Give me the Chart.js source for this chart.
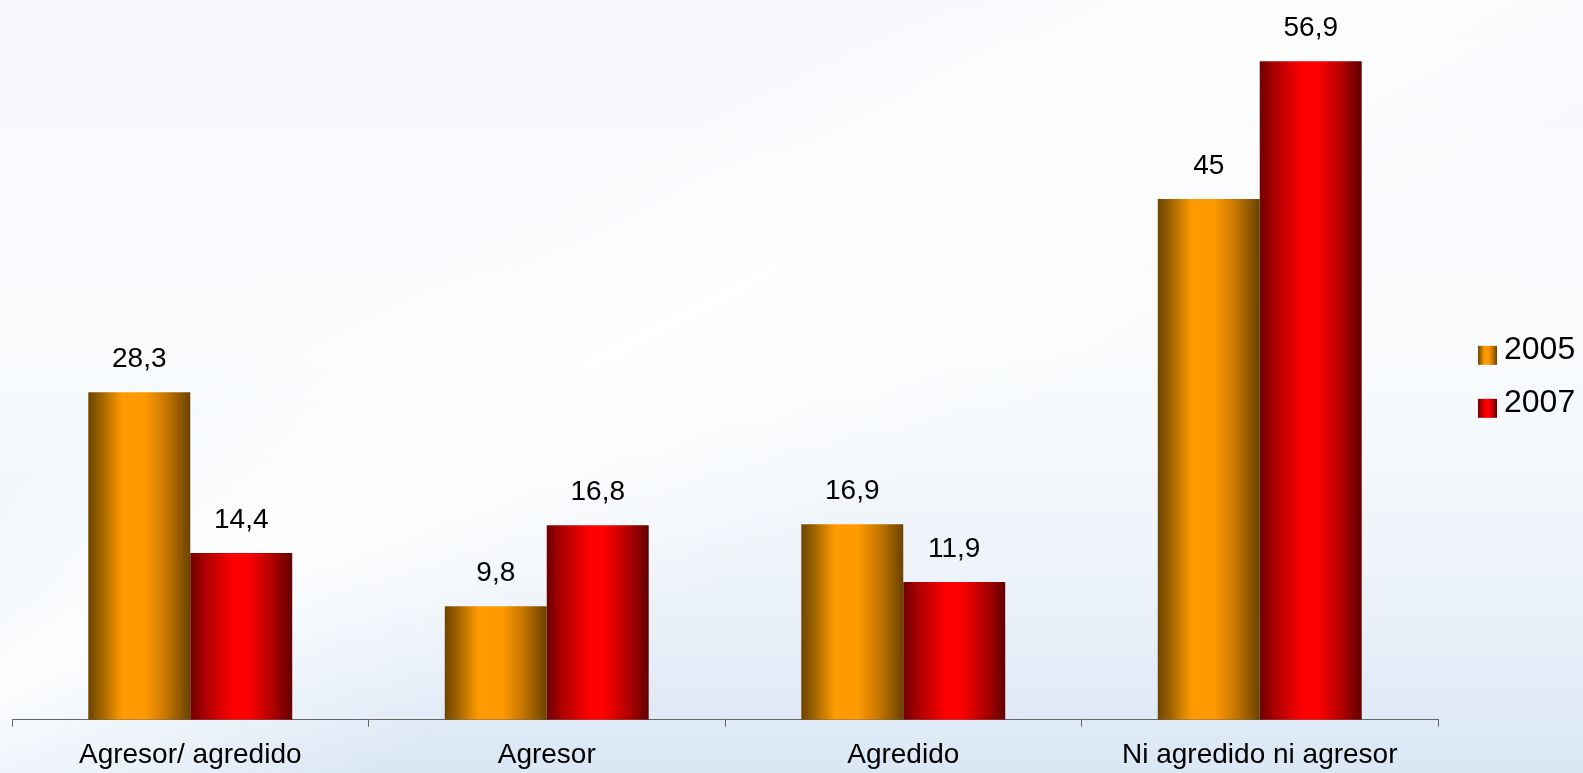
<!DOCTYPE html>
<html>
<head>
<meta charset="utf-8">
<script src="https://cdn.jsdelivr.net/npm/chart.js@4"></script>
<style>
  html, body { margin: 0; padding: 0; }
  body {
    width: 1583px; height: 773px; overflow: hidden;
    background:
      linear-gradient(152deg, rgba(255,255,255,0) 30%, rgba(255,255,255,0.9) 42%, rgba(255,255,255,0) 60%),
      linear-gradient(to bottom, #f6f8fc 0%, #f9fbfd 45%, #eff4fa 72%, #e1ebf7 90%, #dbe7f5 100%);
  }
  #wrap { position: relative; width: 1583px; height: 773px; }
</style>
</head>
<body>
<div id="wrap"><canvas id="chart"></canvas></div>
<script>
// categories and series
const categories = ['Agresor/ agredido', 'Agresor', 'Agredido', 'Ni agredido ni agresor'];
const years = ['2005', '2007'];
const values2005 = [28.3, 9.8, 16.9, 45];
const values2007 = [14.4, 16.8, 11.9, 56.9];

const FONT = '"Liberation Sans", Arial, sans-serif';
const CAT_PCT = 0.572;

// horizontal "cylinder" shading for each series
const shades = [
  [[0, '#6e4400'], [0.12, '#9c6200'], [0.33, '#ff9a00'], [0.56, '#ff9900'], [0.78, '#c07300'], [1, '#6a4200']],
  [[0, '#6e0000'], [0.15, '#ad0000'], [0.42, '#ff0000'], [0.56, '#ff0000'], [0.8, '#b30000'], [1, '#600000']]
];
const flat = ['#ff9900', '#ff0000'];

function shade(ctx, ds, x0, x1) {
  const g = ctx.createLinearGradient(x0, 0, x1, 0);
  shades[ds].forEach(s => g.addColorStop(s[0], s[1]));
  return g;
}

function barFill(context) {
  const chart = context.chart;
  const x = chart.scales.x;
  if (!chart.chartArea || !x) return flat[context.datasetIndex];
  const cat = x.width / categories.length;
  const w = cat * CAT_PCT / 2;
  const left = x.getPixelForValue(context.dataIndex) - cat * CAT_PCT / 2 + context.datasetIndex * w;
  return shade(chart.ctx, context.datasetIndex, left, left + w);
}

// value labels above bars, comma decimals
const valueLabels = {
  id: 'valueLabels',
  afterDatasetsDraw(chart) {
    const ctx = chart.ctx;
    ctx.save();
    ctx.font = '28px ' + FONT;
    ctx.fillStyle = '#000';
    ctx.textAlign = 'center';
    ctx.textBaseline = 'middle';
    chart.data.datasets.forEach((ds, i) => {
      chart.getDatasetMeta(i).data.forEach((bar, j) => {
        ctx.fillText(String(ds.data[j]).replace('.', ','), bar.x, bar.y - 33);
      });
    });
    ctx.restore();
  }
};

// legend on the right side
const sideLegend = {
  id: 'sideLegend',
  afterDraw(chart) {
    const ctx = chart.ctx;
    const a = chart.chartArea;
    const bx = a.right + 40;
    let y = (a.top + a.bottom) / 2 - 10;
    ctx.save();
    ctx.font = '32px ' + FONT;
    ctx.textBaseline = 'middle';
    chart.data.datasets.forEach((ds, i) => {
      ctx.fillStyle = shade(ctx, i, bx, bx + 19);
      ctx.fillRect(bx, y - 4, 19, 19);
      ctx.fillStyle = '#000';
      ctx.fillText(ds.label, bx + 26, y);
      y += 53;
    });
    ctx.restore();
  }
};

new Chart(document.getElementById('chart'), {
  type: 'bar',
  data: {
    labels: categories,
    datasets: [
      { label: years[0], data: values2005, backgroundColor: barFill },
      { label: years[1], data: values2007, backgroundColor: barFill }
    ]
  },
  options: {
    responsive: true,
    maintainAspectRatio: false,
    animation: false,
    datasets: { bar: { categoryPercentage: CAT_PCT, barPercentage: 1 } },
    layout: { padding: { left: 12, right: 145, top: 0, bottom: -10 } },
    plugins: { legend: { display: false }, tooltip: { enabled: false } },
    scales: {
      x: {
        grid: { display: true, drawOnChartArea: false, tickLength: 7, color: '#666', offset: true },
        border: { display: true, color: '#666', width: 1 },
        ticks: { color: '#000', font: { family: FONT, size: 28, lineHeight: 0.44 }, padding: 22, maxRotation: 0 }
      },
      y: { display: false, min: 0, max: 62.2 }
    }
  },
  plugins: [valueLabels, sideLegend]
});
</script>
</body>
</html>
